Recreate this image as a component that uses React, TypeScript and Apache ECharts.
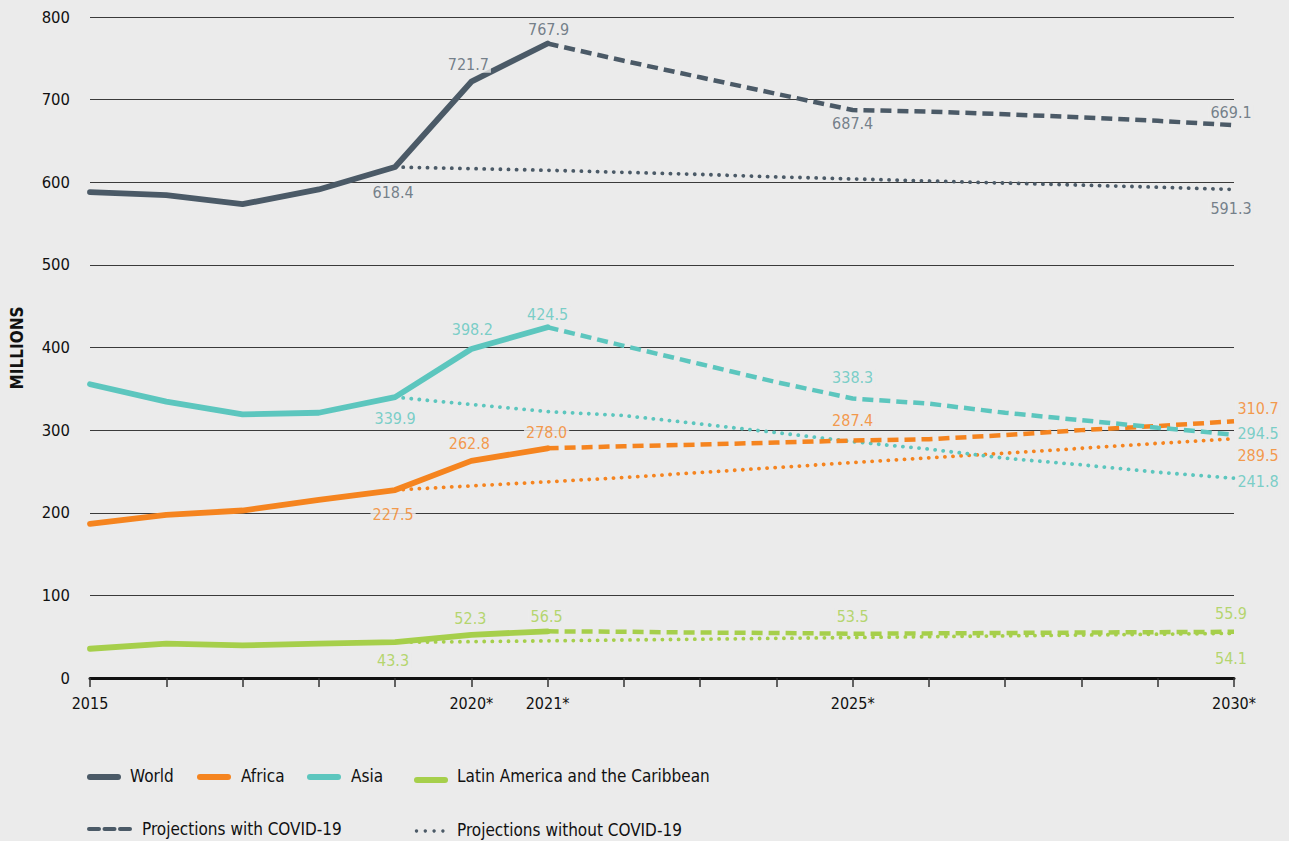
import React, { useEffect, useRef } from "react";
import * as echarts from "echarts";

// ---------- data ----------
const years = ["2015","2016","2017","2018","2019","2020","2021","2022","2023","2024","2025","2026","2027","2028","2029","2030"];
const yearTickLabels: Record<string, string> = { "2015": "2015", "2020": "2020*", "2021": "2021*", "2025": "2025*", "2030": "2030*" };
const yTicks = [0, 100, 200, 300, 400, 500, 600, 700, 800];

// history 2015-2021
const worldHist = [588, 584.4, 573.5, 591.3, 618.4, 721.7, 767.9];
const africaHist = [186.6, 197.5, 202.7, 215.6, 227.5, 262.8, 278.0];
const asiaHist = [355.5, 334.5, 319, 321, 339.9, 398.2, 424.5];
const lacHist = [35.4, 41.5, 39.5, 41.5, 43.3, 52.3, 56.5];

// projections with COVID-19, 2021-2030
const worldWith = [767.9, 747, 727, 707, 687.4, 685.5, 682.3, 678.6, 674.3, 669.1];
const africaWith = [278.0, 280.5, 282.5, 285, 287.4, 289, 294, 300, 305, 310.7];
const asiaWith = [424.5, 402, 380, 358, 338.3, 332, 321, 312, 303, 294.5];
const lacWith = [56.5, 56, 55, 54.5, 53.5, 54, 54.5, 55, 55.5, 55.9];

// projections without COVID-19, 2019-2030
const worldWithout = [618.4, 616.5, 614.5, 612, 609.5, 606.5, 604, 601.5, 599, 596.5, 594, 591.3];
const africaWithout = [227.5, 232.5, 237.4, 242.6, 248.7, 254.7, 260.7, 266.5, 272, 278, 284, 289.5];
const asiaWithout = [339.9, 331, 322.4, 317.6, 307.5, 297, 286, 277, 266, 258, 249, 241.8];
const lacWithout = [43.3, 44, 45, 46, 47, 48, 49, 50, 51, 52, 53, 54.1];

const regionNames = ["World", "Africa", "Asia", "Latin America and the Caribbean"];

// ---------- styles ----------
const FONT = "'Liberation Sans Narrow', 'DejaVu Sans Condensed', 'Roboto', sans-serif";
const BG = "#ebebeb";
const colors: Record<string, string> = {
  World: "#4b5a67",
  Africa: "#f5841f",
  Asia: "#5cc6be",
  "Latin America and the Caribbean": "#a6cf4b",
};
const labelColors: Record<string, string> = {
  World: "#55636f",
  Africa: "#f5841f",
  Asia: "#5cc6be",
  "Latin America and the Caribbean": "#a6cf4b",
};

const regionData: Record<string, { hist: number[]; withC: number[]; without: number[] }> = {
  World: { hist: worldHist, withC: worldWith, without: worldWithout },
  Africa: { hist: africaHist, withC: africaWith, without: africaWithout },
  Asia: { hist: asiaHist, withC: asiaWith, without: asiaWithout },
  "Latin America and the Caribbean": { hist: lacHist, withC: lacWith, without: lacWithout },
};
const scenarioStart: Record<string, number> = { hist: 0, withC: 6, without: 4 };

// label placements: [region, scenario, year, dx, dy]
const labelLayout: [string, string, string, number, number][] = [
  ["World", "hist", "2019", -2, 25], ["World", "hist", "2020", -3, -17], ["World", "hist", "2021", 1, -14],
  ["World", "withC", "2025", 0, 13], ["World", "withC", "2030", -3, -13], ["World", "without", "2030", -3, 19],
  ["Asia", "hist", "2019", 0, 21], ["Asia", "hist", "2020", 1, -19], ["Asia", "hist", "2021", 0, -13],
  ["Asia", "withC", "2025", 0, -21], ["Asia", "withC", "2030", 24, -1], ["Asia", "without", "2030", 24, 3],
  ["Africa", "hist", "2019", -2, 24], ["Africa", "hist", "2020", -2, -17], ["Africa", "hist", "2021", -1, -16],
  ["Africa", "withC", "2025", 0, -20], ["Africa", "withC", "2030", 24, -13], ["Africa", "without", "2030", 24, 17],
  ["Latin America and the Caribbean", "hist", "2019", -2, 18], ["Latin America and the Caribbean", "hist", "2020", -1, -16],
  ["Latin America and the Caribbean", "hist", "2021", -1, -15], ["Latin America and the Caribbean", "withC", "2025", 0, -17],
  ["Latin America and the Caribbean", "withC", "2030", -3, -18], ["Latin America and the Caribbean", "without", "2030", -3, 25],
];

function padSeries(start: number, vals: number[]) {
  return years.map((_, i) => (i >= start && i < start + vals.length ? vals[i - start] : null));
}

function buildOption() {
  const series: any[] = [];
  const order = ["Latin America and the Caribbean", "Africa", "Asia", "World"];
  for (const name of order) {
    const d = regionData[name];
    const c = colors[name];
    series.push({
      name: name + " (without COVID-19)", type: "line", data: padSeries(4, d.without),
      showSymbol: false, symbol: "none", silent: true, z: 2,
      lineStyle: { color: c, width: 3.8, type: [0.1, 8], cap: "round" },
    });
    series.push({
      name: name + " (with COVID-19)", type: "line", data: padSeries(6, d.withC),
      showSymbol: false, symbol: "none", silent: true, z: 3,
      lineStyle: { color: c, width: 4.5, type: [11, 6], cap: "butt" },
    });
    series.push({
      name, type: "line", data: padSeries(0, d.hist),
      showSymbol: false, symbol: "none", silent: true, z: 4,
      lineStyle: { color: c, width: 5.8, cap: "round", join: "round" },
    });
  }
  const labelData = labelLayout.map(([region, sc, yr, dx, dy]) => {
    const idx = years.indexOf(yr) - scenarioStart[sc];
    const v = (regionData[region] as any)[sc][idx];
    return {
      value: [yr, v],
      label: { offset: [dx, dy], color: labelColors[region] },
    };
  });
  series.push({
    type: "scatter", data: labelData, symbolSize: 1, silent: true, z: 10,
    itemStyle: { color: "rgba(0,0,0,0)" },
    label: {
      show: true, position: "inside", fontFamily: FONT, fontSize: 16,
      backgroundColor: BG, padding: [0, 2],
      formatter: (p: any) => Number(p.value[1]).toFixed(1),
    },
  });

  const legendItems: any[] = [];
  const row1 = [
    { name: "World", x1: 90, x2: 118, tx: 130 },
    { name: "Africa", x1: 200, x2: 228, tx: 241 },
    { name: "Asia", x1: 310, x2: 338, tx: 351 },
    { name: "Latin America and the Caribbean", x1: 417, x2: 445, tx: 457, dy: 3 },
  ];
  for (const it of row1) {
    const y = 777 + ((it as any).dy || 0);
    legendItems.push({
      type: "line", shape: { x1: it.x1, y1: y, x2: it.x2, y2: y },
      style: { stroke: colors[it.name], lineWidth: 6, lineCap: "round" },
    });
    legendItems.push({
      type: "text", x: it.tx, y: 776,
      style: { text: it.name, fontFamily: FONT, fontSize: 17, fill: "#111", verticalAlign: "middle", align: "left" },
    });
  }
  // dashed icon
  for (let k = 0; k < 3; k++) {
    legendItems.push({
      type: "line", shape: { x1: 89 + k * 15.5, y1: 829, x2: 99 + k * 15.5, y2: 829 },
      style: { stroke: colors.World, lineWidth: 4, lineCap: "round" },
    });
  }
  legendItems.push({
    type: "text", x: 142, y: 829,
    style: { text: "Projections with COVID-19", fontFamily: FONT, fontSize: 17, fill: "#111", verticalAlign: "middle" },
  });
  for (let k = 0; k < 4; k++) {
    legendItems.push({
      type: "circle", shape: { cx: 416.5 + k * 8.8, cy: 831, r: 1.7 },
      style: { fill: colors.World },
    });
  }
  legendItems.push({
    type: "text", x: 457, y: 830,
    style: { text: "Projections without COVID-19", fontFamily: FONT, fontSize: 17, fill: "#111", verticalAlign: "middle" },
  });
  legendItems.push({
    type: "text", x: 17, y: 348, rotation: Math.PI / 2,
    style: { text: "MILLIONS", fontFamily: FONT, fontSize: 17, fontWeight: "bold", fill: "#111", align: "center", verticalAlign: "middle" },
  });

  return {
    animation: false,
    backgroundColor: BG,
    textStyle: { fontFamily: FONT },
    grid: { left: 90, right: 55, top: 17, bottom: 163, containLabel: false },
    xAxis: {
      type: "category", data: years, boundaryGap: false,
      axisLine: { lineStyle: { color: "#111", width: 3 } },
      axisTick: { show: true, interval: 0, length: 9, lineStyle: { color: "#333", width: 1.5 } },
      axisLabel: {
        interval: 0, margin: 17, color: "#111", fontSize: 16, fontFamily: FONT,
        formatter: (v: string) => yearTickLabels[v] || "",
      },
      splitLine: { show: false },
    },
    yAxis: {
      type: "value", min: yTicks[0], max: yTicks[yTicks.length - 1], interval: 100,
      axisLine: { show: false }, axisTick: { show: false },
      axisLabel: { margin: 20, color: "#111", fontSize: 16.5, fontFamily: FONT },
      splitLine: { lineStyle: { color: "#3a3a3a", width: 1.2 } },
    },
    graphic: legendItems,
    series,
  };
}

export default function App() {
  const ref = useRef<HTMLDivElement>(null);
  useEffect(() => {
    if (!ref.current) return;
    const chart = echarts.init(ref.current, undefined, { renderer: "svg" });
    chart.setOption(buildOption() as any);
    return () => chart.dispose();
  }, []);
  return (
    <div
      ref={ref}
      style={{ position: "fixed", left: 0, top: 0, width: 1289, height: 841, background: BG }}
    />
  );
}
